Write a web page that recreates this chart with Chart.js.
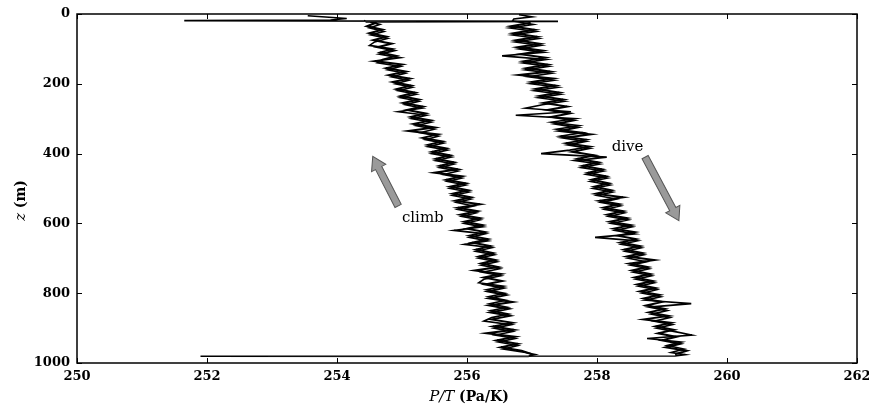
<!DOCTYPE html>
<html>
<head>
<meta charset="utf-8">
<script src="https://cdn.jsdelivr.net/npm/chart.js@4.4.1/dist/chart.umd.min.js"></script>
<style>
  html, body { margin: 0; padding: 0; background: #fff; }
  #wrap { width: 869px; height: 409px; }
</style>
</head>
<body>
<div id="wrap"><canvas id="chart" width="869" height="409"></canvas></div>
<script>
// ---------------- DATA ----------------
// depth (m) of the sampled profile points, first and second sensor pass
const depth = [20, 30, 40, 50, 60, 70, 80, 90, 100, 110, 120, 130, 140, 150, 160, 170, 180, 190, 200,
  210, 220, 230, 240, 250, 260, 270, 280, 290, 300, 310, 320, 330, 340, 350, 360, 370, 380, 390, 400,
  410, 420, 430, 440, 450, 460, 470, 480, 490, 500, 510, 520, 530, 540, 550, 560, 570, 580, 590, 600,
  610, 620, 630, 640, 650, 660, 670, 680, 690, 700, 710, 720, 730, 740, 750, 760, 770, 780, 790, 800,
  810, 820, 830, 840, 850, 860, 870, 880, 890, 900, 910, 920, 930, 940, 950, 960, 970];
const depth2 = [25, 35, 45, 55, 65, 75, 85, 95, 105, 115, 125, 135, 145, 155, 165, 175, 185, 195,
  205, 215, 225, 235, 245, 255, 265, 275, 285, 295, 305, 315, 325, 335, 345, 355, 365, 375, 385, 395,
  405, 415, 425, 435, 445, 455, 465, 475, 485, 495, 505, 515, 525, 535, 545, 555, 565, 575, 585, 595,
  605, 615, 625, 635, 645, 655, 665, 675, 685, 695, 705, 715, 725, 735, 745, 755, 765, 775, 785, 795,
  805, 815, 825, 835, 845, 855, 865, 875, 885, 895, 905, 915, 925, 935, 945, 955, 965, 975];

// P/T (Pa/K) along the climb
const climbPT = [254.44, 254.66, 254.50, 254.72, 254.52, 254.78, 254.58, 254.50, 254.86, 254.66,
  254.92, 254.70, 254.62, 254.98, 254.78, 255.05, 254.84, 255.10, 254.90, 255.16,
  254.94, 255.22, 254.98, 255.26, 255.05, 255.31, 254.94, 255.38, 255.15, 255.45,
  255.22, 255.50, 255.28, 255.56, 255.36, 255.64, 255.40, 255.70, 255.46, 255.76,
  255.52, 255.80, 255.58, 255.86, 255.64, 255.92, 255.70, 255.98, 255.74, 256.03,
  255.78, 256.06, 255.84, 256.10, 255.86, 256.14, 255.92, 256.20, 255.96, 256.24,
  255.80, 256.28, 256.04, 256.32, 255.96, 256.38, 256.14, 256.42, 256.18, 256.46,
  256.22, 256.50, 256.24, 256.52, 256.26, 256.18, 256.56, 256.30, 256.58, 256.33,
  256.60, 256.35, 256.62, 256.36, 256.64, 256.38, 256.26, 256.68, 256.42, 256.70,
  256.44, 256.74, 256.48, 256.78, 256.56, 256.90];
const climbPT2 = [254.60, 254.46, 254.70, 254.50, 254.76, 254.56, 254.84, 254.62,
  254.88, 254.66, 254.96, 254.58, 255.00, 254.76, 255.06, 254.80, 255.12, 254.86,
  255.14, 254.92, 255.20, 254.98, 255.26, 255.02, 255.32, 255.08, 255.36, 255.14,
  255.44, 255.18, 255.50, 255.10, 255.55, 255.32, 255.62, 255.40, 255.68, 255.46,
  255.74, 255.52, 255.80, 255.58, 255.86, 255.50, 255.92, 255.68, 255.98, 255.74,
  256.02, 255.78, 256.06, 255.82, 256.20, 255.86, 256.16, 255.90, 256.20, 255.96,
  256.24, 256.00, 256.28, 256.04, 256.32, 256.08, 256.36, 256.14, 256.40, 256.18,
  256.44, 256.22, 256.48, 256.12, 256.52, 256.26, 256.54, 256.28, 256.56, 256.32,
  256.60, 256.34, 256.70, 256.34, 256.64, 256.36, 256.66, 256.38, 256.70, 256.40,
  256.72, 256.30, 256.74, 256.46, 256.78, 256.52, 256.84, 257.00];

// P/T (Pa/K) along the dive
const divePT = [256.70, 257.02, 256.66, 257.06, 256.70, 257.10, 256.74, 257.14, 256.80, 257.18,
  256.54, 257.22, 256.86, 257.26, 256.90, 257.30, 256.94, 257.34, 256.98, 257.40,
  257.04, 257.44, 257.10, 257.50, 257.16, 256.90, 257.60, 256.75, 257.66, 257.30,
  257.72, 257.38, 257.78, 257.44, 257.84, 257.52, 257.90, 257.58, 257.14, 258.15,
  257.66, 258.04, 257.76, 258.10, 257.84, 258.16, 257.90, 258.20, 257.94, 258.24,
  258.00, 258.30, 258.06, 258.36, 258.12, 258.42, 258.18, 258.48, 258.22, 258.54,
  258.28, 258.58, 257.97, 258.62, 258.38, 258.68, 258.44, 258.72, 258.48, 258.76,
  258.52, 258.80, 258.56, 258.84, 258.60, 258.88, 258.64, 258.92, 258.70, 258.98,
  258.74, 259.45, 258.80, 259.08, 258.84, 259.12, 258.88, 259.16, 258.92, 259.20,
  259.46, 258.77, 259.30, 259.08, 259.34, 259.14];
const divePT2 = [256.98, 256.68, 257.04, 256.72, 257.08, 256.76, 257.12, 256.78,
  257.16, 256.82, 257.20, 256.88, 257.24, 256.92, 257.28, 256.80, 257.32, 257.00,
  257.36, 257.06, 257.42, 257.12, 257.48, 257.18, 257.54, 257.24, 257.58, 257.30,
  257.64, 257.36, 257.70, 257.42, 257.90, 257.48, 257.82, 257.56, 257.88, 257.62,
  257.96, 257.70, 258.02, 257.78, 258.08, 257.86, 258.14, 257.92, 258.18, 257.96,
  258.22, 257.98, 258.40, 258.04, 258.34, 258.10, 258.40, 258.16, 258.46, 258.20,
  258.52, 258.26, 258.58, 258.32, 258.60, 258.36, 258.66, 258.42, 258.70, 258.46,
  258.88, 258.50, 258.78, 258.54, 258.82, 258.58, 258.86, 258.62, 258.90, 258.66,
  258.96, 258.72, 259.00, 258.76, 259.04, 258.80, 259.10, 258.72, 259.14, 258.90,
  259.18, 258.94, 259.22, 259.00, 259.28, 259.06, 259.38, 259.20];

// surface and bottom turn pieces
const climbTopPT = [253.55, 254.15, 253.90, 251.65, 257.40, 254.45];
const climbTopZ  = [5, 13, 17, 19, 21, 23];
const climbEndPT = [257.05, 256.95];
const climbEndZ  = [976, 980];
const diveTopPT  = [256.80, 257.00, 256.72];
const diveTopZ   = [2, 8, 14];
const diveEndPT  = [259.36, 259.20, 251.90, 256.95];
const diveEndZ   = [976, 980, 980.5, 981];

const xTicks = [250, 252, 254, 256, 258, 260, 262];
const zTicks = [0, 200, 400, 600, 800, 1000];

// ---------------- HELPERS ----------------
function toPoints(xs, zs) {
    return xs.map((x, i) => ({ x: x, y: zs[i] }));
}

const climbData = toPoints(climbTopPT, climbTopZ)
    .concat(toPoints(climbPT, depth))
    .concat(toPoints(climbEndPT, climbEndZ));
const diveData = toPoints(diveTopPT, diveTopZ)
    .concat(toPoints(divePT, depth))
    .concat(toPoints(diveEndPT, diveEndZ));

function line(data, w) {
    return { data: data, showLine: true, borderColor: "#000", borderWidth: w,
             pointRadius: 0, tension: 0 };
}

function drawArrow(ctx, x1, y1, x2, y2) {
    const ang = Math.atan2(y2 - y1, x2 - x1);
    const len = Math.hypot(x2 - x1, y2 - y1);
    const shaft = 3.5, head = 8, headLen = 13;
    ctx.save();
    ctx.translate(x1, y1);
    ctx.rotate(ang);
    ctx.beginPath();
    ctx.moveTo(0, -shaft);
    ctx.lineTo(len - headLen, -shaft);
    ctx.lineTo(len - headLen, -head);
    ctx.lineTo(len, 0);
    ctx.lineTo(len - headLen, head);
    ctx.lineTo(len - headLen, shaft);
    ctx.lineTo(0, shaft);
    ctx.closePath();
    ctx.fillStyle = "#9a9a9a";
    ctx.fill();
    ctx.strokeStyle = "#555";
    ctx.lineWidth = 1;
    ctx.stroke();
    ctx.restore();
}

// ---------------- DECOR PLUGIN ----------------
const decor = {
    id: "decor",
    afterDatasetsDraw(chart) {
        const ctx = chart.ctx;
        const a = chart.chartArea;
        const xs = chart.scales.x, ys = chart.scales.y;

        // frame
        ctx.save();
        ctx.strokeStyle = "#000";
        ctx.lineWidth = 1.5;
        ctx.strokeRect(a.left, a.top, a.right - a.left, a.bottom - a.top);

        // inward ticks on all four sides
        ctx.lineWidth = 1;
        ctx.beginPath();
        xTicks.forEach(v => {
            const px = Math.round(xs.getPixelForValue(v)) + 0.5;
            ctx.moveTo(px, a.bottom); ctx.lineTo(px, a.bottom - 5);
            ctx.moveTo(px, a.top); ctx.lineTo(px, a.top + 5);
        });
        zTicks.forEach(v => {
            const py = Math.round(ys.getPixelForValue(v)) + 0.5;
            ctx.moveTo(a.left, py); ctx.lineTo(a.left + 5, py);
            ctx.moveTo(a.right, py); ctx.lineTo(a.right - 5, py);
        });
        ctx.stroke();

        // arrows
        drawArrow(ctx, xs.getPixelForValue(254.94), ys.getPixelForValue(550),
                       xs.getPixelForValue(254.55), ys.getPixelForValue(408));
        drawArrow(ctx, xs.getPixelForValue(258.74), ys.getPixelForValue(410),
                       xs.getPixelForValue(259.26), ys.getPixelForValue(592));

        // annotations
        ctx.fillStyle = "#000";
        ctx.font = "15px 'DejaVu Serif'";
        ctx.textAlign = "center";
        ctx.textBaseline = "middle";
        ctx.fillText("climb", xs.getPixelForValue(255.32), ys.getPixelForValue(584));
        ctx.fillText("dive", xs.getPixelForValue(258.47), ys.getPixelForValue(382));

        // x title: P/T (Pa/K)
        const it = "italic 15px 'DejaVu Serif'";
        const bd = "bold 14px 'DejaVu Serif'";
        ctx.textAlign = "left";
        ctx.textBaseline = "alphabetic";
        ctx.font = it; const w1 = ctx.measureText("P/T ").width;
        ctx.font = bd; const w2 = ctx.measureText("(Pa/K)").width;
        let tx = (a.left + a.right) / 2 - (w1 + w2) / 2 + 2;
        const ty = a.bottom + 38;
        ctx.font = it; ctx.fillText("P/T ", tx, ty);
        ctx.font = bd; ctx.fillText("(Pa/K)", tx + w1, ty);

        // y title: z (m)
        ctx.translate(25, (a.top + a.bottom) / 2 + 12);
        ctx.rotate(-Math.PI / 2);
        ctx.font = it; const w3 = ctx.measureText("z ").width;
        ctx.font = bd; const w4 = ctx.measureText("(m)").width;
        let sx = -(w3 + w4) / 2;
        ctx.font = it; ctx.fillText("z ", sx, 0);
        ctx.font = bd; ctx.fillText("(m)", sx + w3, 0);
        ctx.restore();
    }
};

// ---------------- CHART ----------------
const tickFont = { family: "DejaVu Serif", size: 13, weight: "bold" };

new Chart(document.getElementById("chart").getContext("2d"), {
    type: "scatter",
    data: {
        datasets: [
            line(climbData, 1.6),
            line(toPoints(climbPT2, depth2), 2),
            line(diveData, 1.6),
            line(toPoints(divePT2, depth2), 2)
        ]
    },
    options: {
        responsive: false,
        animation: false,
        layout: { padding: { left: 0, right: 12, top: 14, bottom: 0 } },
        plugins: { legend: { display: false }, tooltip: { enabled: false } },
        scales: {
            x: {
                type: "linear", min: 250, max: 262,
                grid: { display: false, drawTicks: false },
                border: { display: false },
                ticks: { stepSize: 2, color: "#000", font: tickFont, padding: 6,
                         callback: v => String(v) },
                afterFit(s) { s.height = 46; s.paddingLeft = 0; s.paddingRight = 0; }
            },
            y: {
                type: "linear", min: 0, max: 1000, reverse: true,
                grid: { display: false, drawTicks: false },
                border: { display: false },
                ticks: { stepSize: 200, color: "#000", font: tickFont, padding: 7,
                         callback: v => String(v) },
                afterFit(s) { s.width = 77; s.paddingTop = 0; s.paddingBottom = 0; }
            }
        }
    },
    plugins: [decor]
});
</script>
</body>
</html>
